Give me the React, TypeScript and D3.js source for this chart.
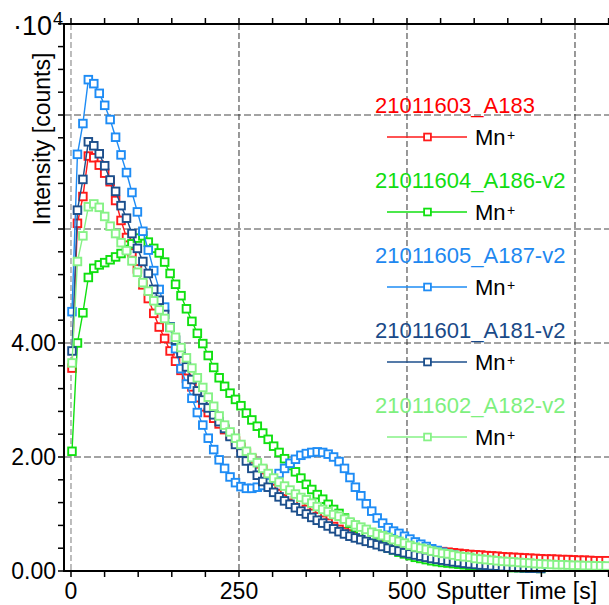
import React from "react";
import * as d3 from "d3";

const TIME_START = 1.5;
const TIME_STEP = 8.11;

const xTicksMajor = [0, 250, 500];
const yTickLabels = [0, 2, 4];
const yGrid = [2, 4, 6, 8];
const xGrid = [250, 500, 750];

const seriesNames = [
  "21011603_A183",
  "21011604_A186-v2",
  "21011605_A187-v2",
  "21011601_A181-v2",
  "21011602_A182-v2",
];
const seriesColors = ["#ff1a1a", "#10e010", "#1e8cf5", "#1c4f8c", "#86f286"];
const textColors = ["#ff0000", "#11dd11", "#1e88f0", "#1a4a88", "#7ef07e"];
const ionLabel = "Mn";

const red = [
  3.56, 6.1, 6.57, 7.28, 7.25, 7.12, 6.98, 6.83, 6.5, 6.15,
  5.85, 5.58, 5.3, 5.02, 4.78, 4.52, 4.28, 4.08, 3.86, 3.68,
  3.52, 3.38, 3.23, 3.04, 2.88, 2.78, 2.68, 2.58, 2.48, 2.38,
  2.28, 2.17, 2.07, 1.97, 1.88, 1.78, 1.68, 1.58, 1.49, 1.4,
  1.32, 1.24, 1.16, 1.08, 1.01, 0.95, 0.89, 0.84, 0.78, 0.73,
  0.69, 0.65, 0.61, 0.58, 0.55, 0.52, 0.5, 0.48, 0.46, 0.44,
  0.42, 0.41, 0.4, 0.39, 0.38, 0.37, 0.36, 0.35, 0.34, 0.33,
  0.32, 0.31, 0.3, 0.29, 0.285, 0.28, 0.27, 0.265, 0.26, 0.25,
  0.245, 0.24, 0.235, 0.23, 0.225, 0.22, 0.215, 0.21, 0.21, 0.205,
  0.2, 0.2, 0.195, 0.19, 0.19, 0.185, 0.18, 0.18, 0.18,
];

const green = [
  2.1, 4.0, 4.53, 5.15, 5.31, 5.37, 5.41, 5.46, 5.51, 5.57,
  5.64, 5.74, 5.84, 5.88, 5.77, 5.66, 5.58, 5.42, 5.22, 5.03,
  4.83, 4.6, 4.38, 4.17, 3.99, 3.78, 3.57, 3.39, 3.24, 3.12,
  3.01, 2.9, 2.77, 2.65, 2.54, 2.42, 2.31, 2.19, 2.08, 1.97,
  1.85, 1.74, 1.63, 1.52, 1.43, 1.34, 1.26, 1.17, 1.08, 1.01,
  0.93, 0.84, 0.76, 0.68, 0.61, 0.55, 0.5, 0.45, 0.41, 0.37,
  0.33, 0.3, 0.27, 0.24, 0.22, 0.2, 0.18, 0.165, 0.15, 0.14,
  0.13, 0.12, 0.11, 0.1, 0.095, 0.09, 0.085, 0.08, 0.075, 0.07,
  0.065, 0.06, 0.06, 0.055, 0.05, 0.05, 0.045,
];

const blue = [
  4.55, 7.31, 7.85, 8.62, 8.55, 8.38, 8.17, 7.92, 7.61, 7.3,
  6.99, 6.64, 6.3, 5.96, 5.63, 5.27, 4.94, 4.63, 4.28, 3.9,
  3.55, 3.28, 3.03, 2.78, 2.56, 2.33, 2.13, 1.95, 1.8, 1.65,
  1.55, 1.48, 1.45, 1.45, 1.47, 1.5, 1.55, 1.62, 1.71, 1.8,
  1.89, 1.96, 2.03, 2.06, 2.08, 2.09, 2.08, 2.05, 2.0, 1.92,
  1.8, 1.64, 1.47, 1.32, 1.18, 1.05, 0.93, 0.84, 0.76, 0.7,
  0.66, 0.61, 0.56, 0.51, 0.47, 0.43, 0.39, 0.36, 0.33, 0.3,
  0.28, 0.25, 0.23, 0.21, 0.2, 0.18, 0.17, 0.16, 0.15, 0.14,
  0.135, 0.13, 0.12, 0.115, 0.11, 0.1, 0.1,
];

const darkBlue = [
  3.86, 6.33, 6.87, 7.53, 7.46, 7.32, 7.11, 6.86, 6.66, 6.41,
  6.19, 5.92, 5.66, 5.43, 5.22, 4.94, 4.75, 4.5, 4.28, 4.05,
  3.82, 3.58, 3.36, 3.16, 3.0, 2.86, 2.74, 2.62, 2.5, 2.36,
  2.22, 2.07, 1.93, 1.8, 1.68, 1.57, 1.47, 1.38, 1.3, 1.23,
  1.17, 1.11, 1.05, 1.0, 0.94, 0.89, 0.84, 0.79, 0.74, 0.69,
  0.65, 0.61, 0.58, 0.55, 0.52, 0.49, 0.46, 0.43, 0.4, 0.37,
  0.35, 0.32, 0.3, 0.28, 0.26, 0.24, 0.22, 0.205, 0.19, 0.175,
  0.16, 0.15, 0.135, 0.125, 0.115, 0.105, 0.1, 0.09, 0.085, 0.075,
  0.07, 0.065, 0.06, 0.055, 0.05, 0.05, 0.045,
];

const lightGreen = [
  3.65, 5.43, 5.88, 6.39, 6.44, 6.38, 6.22, 6.05, 5.92, 5.76,
  5.62, 5.44, 5.24, 5.06, 4.91, 4.74, 4.58, 4.43, 4.27, 4.1,
  3.92, 3.74, 3.56, 3.39, 3.22, 3.05, 2.89, 2.72, 2.56, 2.44,
  2.33, 2.22, 2.1, 1.99, 1.9, 1.8, 1.71, 1.63, 1.56, 1.49,
  1.42, 1.35, 1.29, 1.25, 1.19, 1.13, 1.08, 1.04, 0.99, 0.96,
  0.91, 0.86, 0.81, 0.77, 0.73, 0.68, 0.65, 0.62, 0.59, 0.55,
  0.52, 0.49, 0.45, 0.42, 0.4, 0.38, 0.35, 0.33, 0.31, 0.3,
  0.28, 0.26, 0.25, 0.24, 0.22, 0.21, 0.2, 0.19, 0.18, 0.17,
  0.165, 0.16, 0.15, 0.145, 0.14, 0.13, 0.125, 0.12, 0.115, 0.11,
  0.11, 0.105, 0.1, 0.1, 0.095, 0.095, 0.09, 0.09, 0.088,
];

const seriesValues = [red, green, blue, darkBlue, lightGreen];

const FONT = "Arial, 'Liberation Sans', sans-serif";

export default function App() {
  const W = 609;
  const H = 605;
  const left = 64;
  const right = 609;
  const top = 24;
  const bottom = 571;

  const x = d3.scaleLinear().domain([-10.4, 800.6]).range([left, right]);
  const y = d3.scaleLinear().domain([0, 9.6]).range([bottom, 23.8]);

  const line = d3
    .line<[number, number]>()
    .x((d) => x(d[0]))
    .y((d) => y(d[1]));

  const data = seriesValues.map((vals) =>
    vals.map((v, i) => [TIME_START + TIME_STEP * i, v] as [number, number])
  );

  const xMinor = d3.range(0, 801, 50);
  const yMinor = d3.range(0, 9.61, 0.4);
  const ms = 7.6;
  const lms = 6.8;

  return (
    <svg
      width={W}
      height={H}
      style={{ position: "absolute", left: 0, top: 0, background: "#fff" }}
      fontFamily={FONT}
    >
      <rect x={0} y={0} width={W} height={H} fill="#fff" />
      {/* grid */}
      {yGrid.map((g) => (
        <line
          key={"yg" + g}
          x1={left}
          x2={right}
          y1={y(g)}
          y2={y(g)}
          stroke="#858585"
          strokeWidth={1.6}
          strokeDasharray="7,3"
        />
      ))}
      <line
        x1={x(0)}
        x2={x(0)}
        y1={top}
        y2={bottom}
        stroke="#9a9a9a"
        strokeWidth={1.3}
        strokeDasharray="6,3"
      />
      {xGrid.map((g) => (
        <line
          key={"xg" + g}
          x1={x(g)}
          x2={x(g)}
          y1={top}
          y2={bottom}
          stroke="#333"
          strokeWidth={1}
          strokeDasharray="6,3"
        />
      ))}

      {/* series */}
      {data.map((pts, si) => (
        <g key={"s" + si}>
          <path d={line(pts) || ""} fill="none" stroke={seriesColors[si]} strokeWidth={1.4} />
          {pts.map((p, i) => (
            <rect
              key={i}
              x={x(p[0]) - ms / 2}
              y={y(p[1]) - ms / 2}
              width={ms}
              height={ms}
              fill="#fff"
              stroke={seriesColors[si]}
              strokeWidth={1.9}
            />
          ))}
        </g>
      ))}

      {/* axes */}
      <line x1={left} x2={left} y1={top - 1} y2={bottom + 1} stroke="#000" strokeWidth={2} />
      <line x1={left - 1} x2={right} y1={bottom} y2={bottom} stroke="#000" strokeWidth={2} />
      <line x1={left - 1} x2={right} y1={top} y2={top} stroke="#000" strokeWidth={2} />
      {xMinor.map((t) => (
        <g key={"xt" + t}>
          <line x1={x(t)} x2={x(t)} y1={bottom} y2={bottom + 6} stroke="#000" strokeWidth={1.5} />
          <line x1={x(t)} x2={x(t)} y1={top} y2={top - 6} stroke="#000" strokeWidth={1.5} />
        </g>
      ))}
      {yMinor.map((v) => (
        <line key={"yt" + v} x1={left - 6} x2={left} y1={y(v)} y2={y(v)} stroke="#000" strokeWidth={1.5} />
      ))}

      {/* tick labels */}
      {yTickLabels.map((v) => (
        <text
          key={"yl" + v}
          x={56}
          y={y(v) + 8}
          textAnchor="end"
          fontSize={23}
          fill="#000"
        >
          {v.toFixed(2)}
        </text>
      ))}
      {xTicksMajor.map((t) => (
        <text key={"xl" + t} x={x(t)} y={599} textAnchor="middle" fontSize={23} fill="#000">
          {t}
        </text>
      ))}
      <text x={436} y={599} fontSize={23} fill="#000">
        Sputter Time [s]
      </text>

      {/* y title */}
      <text
        transform={`translate(50,139) rotate(-90)`}
        textAnchor="middle"
        fontSize={23}
        fill="#000"
      >
        Intensity [counts]
      </text>
      <text x={52} y={35} textAnchor="end" fontSize={27} fill="#000">
        ·10
      </text>
      <text x={53} y={25} fontSize={18} fill="#000">
        4
      </text>

      {/* legend */}
      {seriesNames.map((name, i) => {
        const by = 113 + 75 * i;
        const ly = by + 24;
        return (
          <g key={"lg" + i}>
            <text x={375} y={by} fontSize={22} fill={textColors[i]}>
              {name}
            </text>
            <line x1={387} x2={467} y1={ly} y2={ly} stroke={seriesColors[i]} strokeWidth={1.4} />
            <rect
              x={427.5 - lms / 2}
              y={ly - lms / 2}
              width={lms}
              height={lms}
              fill="#fff"
              stroke={seriesColors[i]}
              strokeWidth={1.8}
            />
            <text x={475} y={ly + 7.5} fontSize={22} fill="#000">
              {ionLabel}
            </text>
            <text x={507} y={ly + 3} fontSize={14} fill="#000">
              +
            </text>
          </g>
        );
      })}
    </svg>
  );
}
